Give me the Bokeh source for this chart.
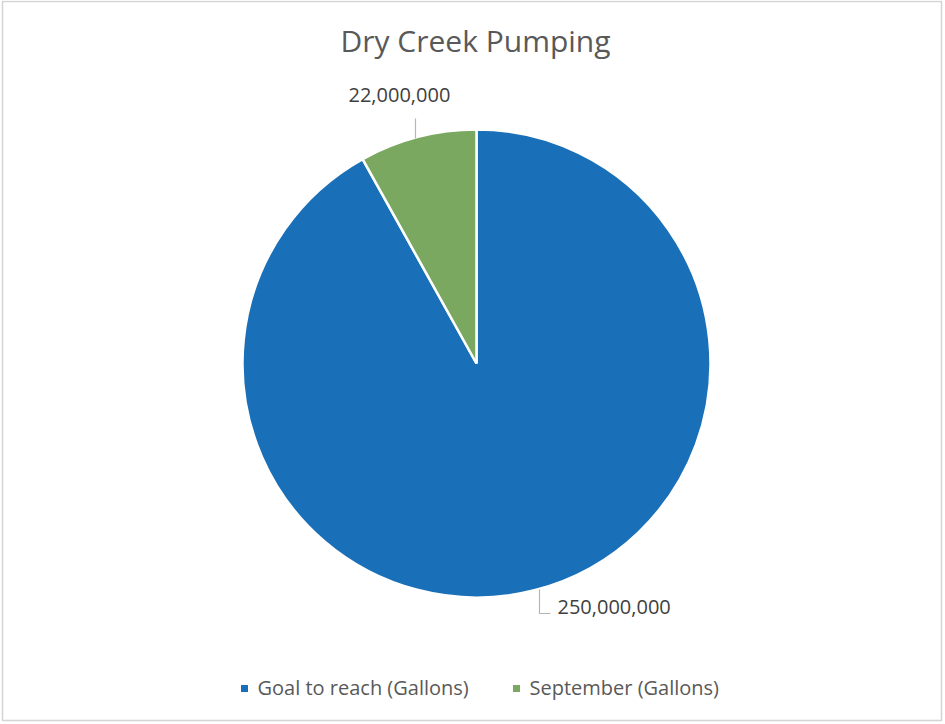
import math
from bokeh.plotting import figure
from bokeh.models import Range1d, ColumnDataSource
from bokeh.core.properties import value
from bokeh.embed import file_html
from bokeh.resources import INLINE

# ---- data ----
categories = ["Goal to reach (Gallons)", "September (Gallons)"]
values = [250000000, 22000000]
colors = ["#1a70b8", "#7aa861"]
title_text = "Dry Creek Pumping"

W, H = 945, 724
FONT = "Open Sans"

def Y(py):
    return H - py

p = figure(width=W, height=H, x_range=Range1d(0, W), y_range=Range1d(0, H),
           output_backend="svg", toolbar_location=None, min_border=0,
           x_axis_location=None, y_axis_location=None)
p.grid.visible = False
p.outline_line_color = None
p.background_fill_color = "white"
p.border_fill_color = "white"

# border of the chart area
p.quad(left=[2], right=[941], bottom=[Y(720)], top=[Y(1)], fill_color=None,
       line_color="#d4d4d4", line_width=1.5)

# ---- pie ----
cx, cy, r = 476, Y(363), 234
total = sum(values)
starts, ends = [], []
cum = 0.0
for v in values:
    a0 = cum / total * 2 * math.pi
    cum += v
    a1 = cum / total * 2 * math.pi
    # clockwise from 12 o'clock
    starts.append(math.pi / 2 - a1)
    ends.append(math.pi / 2 - a0)

src = ColumnDataSource(dict(start=starts, end=ends, color=colors))
p.wedge(x=cx, y=cy, radius=r, start_angle="start", end_angle="end",
        fill_color="color", line_color="white", line_width=2.5, source=src)

# ---- data labels ----
labels = [f"{v:,}" for v in values]
label_pos = [(557, 606, "left"), (348, 94, "left")]
for txt, (lx, ly, al) in zip(labels, label_pos):
    p.text(x=[lx], y=[Y(ly)], text=[txt], text_font=value(FONT),
           text_font_size="20px", text_color="#404040",
           text_align=al, text_baseline="middle")

# leader lines
p.line(x=[539, 539, 550], y=[Y(589), Y(613), Y(613)], line_color="#b5b5b5", line_width=1.2)
p.line(x=[415, 415], y=[Y(118), Y(138)], line_color="#b5b5b5", line_width=1.2)

# ---- title ----
p.text(x=[475], y=[Y(40)], text=[title_text], text_font=value(FONT),
       text_font_size="30px", text_color="#595959",
       text_align="center", text_baseline="middle")

# ---- legend ----
leg_x = [244, 516]
p.scatter(x=leg_x, y=[Y(688)] * 2, marker="square", size=7,
          fill_color=colors, line_color=None)
p.text(x=[x + 13 for x in leg_x], y=[Y(687)] * 2, text=categories,
       text_font=value(FONT), text_font_size="20px", text_color="#595959",
       text_align="left", text_baseline="middle")

open("out.html", "w").write(file_html(p, INLINE))
